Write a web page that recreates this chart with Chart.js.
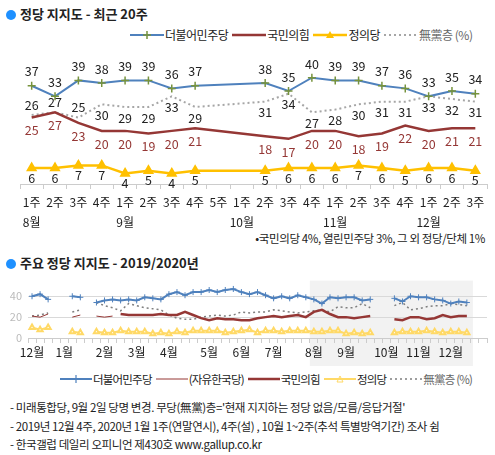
<!DOCTYPE html>
<html>
<head>
<meta charset="utf-8">
<script src="https://cdn.jsdelivr.net/npm/chart.js@4"></script>
<style>
  body { margin:0; width:495px; height:455px; position:relative; background:#fff; font-family:"Noto Sans CJK KR", sans-serif; color:#222; overflow:hidden; }
  .abs { position:absolute; white-space:nowrap; }
  .title { font-size:13px; font-weight:bold; }
  .dot { display:inline-block; width:10px; height:10px; border-radius:50%; background:#1e90ff; margin-right:4px; vertical-align:-1px; }
  .leg { font-size:12px; display:flex; align-items:center; letter-spacing:-0.5px; }
  .leg svg { margin:0 1px 0 4px; }
  .note { font-size:11.5px; letter-spacing:-0.4px; }
</style>
</head>
<body>
<div class="abs title" style="left:6px;top:4px"><span class="dot"></span>정당 지지도 - 최근 20주</div>
<div class="abs leg" style="left:126px;top:26px">
  <svg width="34" height="10"><line x1="0" y1="5" x2="34" y2="5" stroke="#4f81bd" stroke-width="2"/><path d="M17 1v8M13 5h8" stroke="#77933c" stroke-width="1.5"/></svg>더불어민주당
  <svg width="34" height="10"><line x1="0" y1="5" x2="34" y2="5" stroke="#953735" stroke-width="2.5"/></svg>국민의힘
  <svg width="34" height="10"><line x1="0" y1="5" x2="34" y2="5" stroke="#ffc000" stroke-width="2.5"/><path d="M17 1l4 7h-8z" fill="#ffc000"/></svg>정의당
  <svg width="34" height="10"><line x1="0" y1="5" x2="34" y2="5" stroke="#a6a6a6" stroke-width="2" stroke-dasharray="2,3"/></svg><span style="color:#666">無黨층 (%)</span>
</div>
<canvas id="top" class="abs" style="left:0;top:50px"></canvas>
<div class="abs note" style="right:10px;top:230px">•국민의당 4%, 열린민주당 3%, 그 외 정당/단체 1%</div>

<div class="abs title" style="left:6px;top:253px"><span class="dot"></span>주요 정당 지지도 - 2019/2020년</div>
<canvas id="bottom" class="abs" style="left:0;top:268px"></canvas>
<div class="abs leg" style="left:56px;top:371px;font-size:11.5px;letter-spacing:-0.8px">
  <svg width="32" height="10"><line x1="0" y1="5" x2="32" y2="5" stroke="#4f81bd" stroke-width="2"/><path d="M16 1v8M12 5h8" stroke="#4f81bd" stroke-width="1.2"/></svg>더불어민주당
  <svg width="32" height="10"><line x1="0" y1="5" x2="32" y2="5" stroke="#953735" stroke-width="1"/></svg>(자유한국당)
  <svg width="32" height="10"><line x1="0" y1="5" x2="32" y2="5" stroke="#953735" stroke-width="2.5"/></svg>국민의힘
  <svg width="32" height="10"><line x1="0" y1="5" x2="32" y2="5" stroke="#ffd966" stroke-width="2"/><path d="M16 2l3 6h-6z" fill="none" stroke="#ffd966"/></svg>정의당
  <svg width="32" height="10"><line x1="0" y1="5" x2="32" y2="5" stroke="#7f7f7f" stroke-width="1.5" stroke-dasharray="2,3"/></svg><span style="color:#666">無黨층 (%)</span>
</div>
<div class="abs note" style="left:10px;top:399px">- 미래통합당, 9월 2일 당명 변경. 무당(無黨)층='현재 지지하는 정당 없음/모름/응답거절'</div>
<div class="abs note" style="left:10px;top:418px">- 2019년 12월 4주, 2020년 1월 1주(연말연시), 4주(설) , 10월 1~2주(추석 특별방역기간) 조사 쉼</div>
<div class="abs note" style="left:10px;top:436px">- 한국갤럽 데일리 오피니언 제430호 www.gallup.co.kr</div>

<script>
// 최근 20주
const weeks = ['1주','2주','3주','4주','1주','2주','3주','4주','5주','1주','2주','3주','4주','1주','2주','3주','4주','1주','2주','3주'];
const months = {0:'8월',4:'9월',9:'10월',13:'11월',17:'12월'};
const minjoo = [37,33,39,38,39,39,36,37,null,null,38,35,40,39,39,37,36,33,35,34];
const ppp    = [25,27,23,20,20,19,20,21,null,null,18,17,20,20,18,19,22,20,21,21];
const justice= [6,6,7,7,4,5,4,5,null,null,5,6,6,6,7,6,5,6,6,5];
const nonpart= [26,27,25,30,29,29,33,29,null,null,31,34,27,28,30,31,31,33,32,31];

// 2019/2020 (weeks before 2020 8월 1주)
const monthIdx = {0:'12월',4:'1월',9:'2월',13:'3월',17:'4월',22:'5월',26:'6월',30:'7월',35:'8월',39:'9월',44:'10월',48:'11월',52:'12월'};
const minjooOld  = [40,42,37,null,null,40,39,null,34,36,37,36,37,36,39,38,37,42,44,41,44,44,46,44,46,47,44,42,44,41,38,40,38,41,39];
const libKorea   = [21,20,23,null,null,20,22,null,21,20,21];
const pppOld     = [null,null,null,null,null,null,null,null,null,null,null,23,22,22,22,22,23,22,22,25,22,19,17,19,18,18,17,17,19,20,21,20,21,22,20];
const justiceOld = [10,8,10,null,null,6,5,null,6,5,5,7,6,6,6,4,5,4,6,5,7,7,7,7,5,6,7,8,5,7,7,6,7,7,7];
const nonpartOld = [21,22,24,null,null,25,27,null,34,31,29,26,33,31,29,28,27,22,19,18,18,20,21,22,21,22,25,24,25,25,27,26,25,24,25];
const nWeeks = 57;

const FONT = '"Noto Sans CJK KR", sans-serif';
Chart.defaults.font.family = FONT;
Chart.defaults.animation = false;

function sizeCanvas(id, w, h) {
  const c = document.getElementById(id);
  c.width = w; c.height = h; c.style.width = w + 'px'; c.style.height = h + 'px';
  return c.getContext('2d');
}

// 값 라벨
const labelPlugin = {
  id: 'vals',
  afterDatasetsDraw(chart) {
    const ctx = chart.ctx;
    ctx.save();
    ctx.font = '12.5px ' + FONT;
    ctx.textAlign = 'center';
    ctx.textBaseline = 'middle';
    chart.data.datasets.forEach((ds, di) => {
      chart.getDatasetMeta(di).data.forEach((pt, i) => {
        const v = ds.data[i];
        if (v == null) return;
        let dy = ds.labelDy;
        if (di === 3 && i < 3) dy = -10;
        ctx.fillStyle = ds.labelColor;
        ctx.fillText(v, pt.x, pt.y + dy);
      });
    });
    ctx.restore();
  }
};

new Chart(sizeCanvas('top', 495, 180), {
  type: 'line',
  data: {
    labels: weeks.map((w, i) => [w, months[i] || '']),
    datasets: [
      { data: minjoo, borderColor:'#4f81bd', borderWidth:2, pointStyle:'cross', pointRadius:4, pointBorderColor:'#77933c', pointBorderWidth:1.5, labelDy:-14, labelColor:'#222' },
      { data: ppp, borderColor:'#953735', borderWidth:2.5, pointRadius:0, labelDy:13, labelColor:'#953735' },
      { data: justice, borderColor:'#ffc000', borderWidth:2.5, pointStyle:'triangle', pointRadius:4, pointBackgroundColor:'#ffc000', pointBorderColor:'#ffc000', labelDy:10, labelColor:'#222' },
      { data: nonpart, borderColor:'#a6a6a6', borderWidth:2, borderDash:[2,3], pointRadius:0, labelDy:11, labelColor:'#222' }
    ]
  },
  options: {
    responsive:false, spanGaps:true,
    layout:{ padding:{ top:3, left:20, right:8, bottom:0 } },
    plugins:{ legend:{display:false}, tooltip:{enabled:false} },
    scales:{
      x:{ offset:true, grid:{ offset:true, drawOnChartArea:false, tickLength:5, color:'#ccc' }, border:{color:'#ccc'},
          ticks:{ color:'#222', font:{size:12, lineHeight:1.7}, maxRotation:0, autoSkip:false, padding:3 },
          afterFit(s){ s.height = 46; } },
      y:{ display:false, min:0, max:48 }
    }
  },
  plugins:[labelPlugin]
});

// 음영 구간
const shadePlugin = {
  id: 'shade',
  beforeDraw(chart) {
    const x = chart.scales.x, a = chart.chartArea;
    const half = (x.getPixelForValue(1) - x.getPixelForValue(0)) / 2;
    const ctx = chart.ctx;
    ctx.save();
    ctx.fillStyle = '#f2f2f2';
    const x0 = x.getPixelForValue(35) - half, x1 = x.getPixelForValue(54) + half * 1.5;
    ctx.fillRect(x0, a.top, x1 - x0, a.bottom - a.top + 28);
    ctx.restore();
  }
};

const pad = (arr) => arr.concat(new Array(nWeeks - arr.length).fill(null));
new Chart(sizeCanvas('bottom', 495, 100), {
  type: 'line',
  data: {
    labels: Array.from({length:nWeeks}, (_, i) => monthIdx[i] || ''),
    datasets: [
      { data: pad(minjooOld.concat(minjoo)), borderColor:'#4f81bd', borderWidth:2, pointStyle:'cross', pointRadius:3, pointBorderColor:'#4f81bd', pointBorderWidth:1 },
      { data: pad(libKorea), borderColor:'#953735', borderWidth:1, pointRadius:0 },
      { data: pad(pppOld.concat(ppp)), borderColor:'#953735', borderWidth:2.5, pointRadius:0 },
      { data: pad(justiceOld.concat(justice)), borderColor:'#ffd966', borderWidth:2, pointStyle:'triangle', pointRadius:3, pointBackgroundColor:'#fff', pointBorderColor:'#ffd966' },
      { data: pad(nonpartOld.concat(nonpart)), borderColor:'#7f7f7f', borderWidth:1.5, borderDash:[2,3], pointRadius:0 }
    ]
  },
  options: {
    responsive:false, spanGaps:false,
    layout:{ padding:{ top:4, left:0, right:8, bottom:0 } },
    plugins:{ legend:{display:false}, tooltip:{enabled:false} },
    scales:{
      x:{ offset:true, grid:{ offset:true, drawOnChartArea:false, tickLength:5, color:'#ccc' }, border:{color:'#ccc'},
          ticks:{ color:'#222', font:{size:12}, maxRotation:0, autoSkip:false, padding:2 },
          afterFit(s){ s.height = 30; } },
      y:{ min:0, max:55, border:{display:false},
          grid:{ color:(c) => (c.tick && c.tick.value % 20 === 0 && c.tick.value > 0) ? '#d9d9d9' : 'transparent', drawTicks:false },
          ticks:{ stepSize:20, color:'#bbb', font:{size:11}, padding:6, callback:(v) => v % 20 === 0 ? v : null },
          afterFit(s){ s.width = 28; } }
    }
  },
  plugins:[shadePlugin]
});
</script>
</body>
</html>
